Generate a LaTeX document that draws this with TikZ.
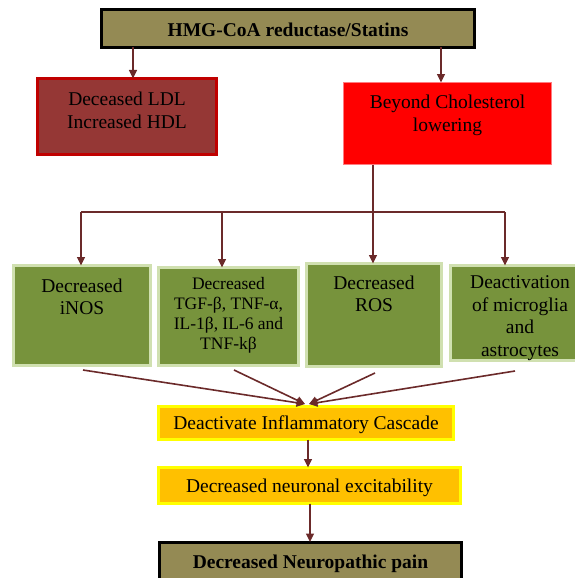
\documentclass[tikz,border=0pt]{standalone}
\usepackage{fontspec}
\setmainfont{Liberation Serif}
\usetikzlibrary{arrows.meta,calc}
\definecolor{olivebox}{HTML}{948A54}
\definecolor{ldlfill}{HTML}{953735}
\definecolor{ldlborder}{HTML}{C00000}
\definecolor{redborder}{HTML}{FF7C80}
\definecolor{greenfill}{HTML}{77933C}
\definecolor{greenborder}{HTML}{D0E0B0}
\definecolor{yellowfill}{HTML}{FFC000}
\definecolor{yellowborder}{HTML}{FFFF00}
\definecolor{arrowc}{HTML}{6B2A2A}
\tikzset{
  box/.style={rectangle, inner sep=0pt, outer sep=0pt},
  olivestyle/.style={box, fill=olivebox, draw=black, line width=3pt},
  ldlstyle/.style={box, fill=ldlfill, draw=ldlborder, line width=3pt},
  redstyle/.style={box, fill=red, draw=redborder, line width=1pt},
  greenstyle/.style={box, fill=greenfill, draw=greenborder, line width=3pt},
  yellowstyle/.style={box, fill=yellowfill, draw=yellowborder, line width=3pt},
  txt/.style={align=center, inner sep=0pt, font=\fontsize{19.5}{22.5}\selectfont},
  smalltxt/.style={align=center, inner sep=0pt, font=\fontsize{17.5}{20}\selectfont},
  boldtxt/.style={align=center, inner sep=0pt, font=\fontsize{19.5}{22.5}\selectfont\bfseries},
  arr/.style={draw=arrowc, line width=1.6pt, -{Triangle[length=8.5pt,width=8pt]}},
  plain/.style={draw=arrowc, line width=1.6pt},
}
\begin{document}
\begin{tikzpicture}[x=1pt,y=-1pt]
\useasboundingbox (0,0) rectangle (574,578);

% top
\node[olivestyle, minimum width=373pt, minimum height=38pt] (top) at (288,28.5) {};
\node[boldtxt] (toptxt) at (288,30) {HMG-CoA reductase/Statins};

% second row
\node[ldlstyle, minimum width=179pt, minimum height=76pt] (ldl) at (127,116.5) {};
\node[txt] (ldltxt) at (127,110.5) {Deceased LDL\\Increased HDL};
\node[redstyle, minimum width=208pt, minimum height=82pt] (red) at (447.5,123.5) {};
\node[txt] (redtxt) at (447.5,115.5) {Beyond Cholesterol\\lowering};

% green row
\node[greenstyle, minimum width=137pt, minimum height=100pt] (g1) at (82,315.5) {};
\node[txt] (g1t) at (82,297) {Decreased\\iNOS};
\node[greenstyle, minimum width=140pt, minimum height=98pt] (g2) at (228.5,316.5) {};
\node[smalltxt] (g2t) at (228.5,315.5) {Decreased\\TGF-β, TNF-α,\\IL-1β, IL-6 and\\TNF-kβ};
\node[greenstyle, minimum width=135pt, minimum height=103pt] (g3) at (374,315) {};
\node[txt] (g3t) at (374,294) {Decreased\\ROS};
\node[greenstyle, minimum width=139pt, minimum height=95pt] (g4) at (520,313) {};
\node[txt] (g4t) at (520,318) {Deactivation\\of microglia\\and\\astrocytes};

% yellow boxes
\node[yellowstyle, minimum width=295pt, minimum height=33pt] (y1) at (306,423) {};
\node[txt] (y1t) at (306,425) {Deactivate Inflammatory Cascade};
\node[yellowstyle, minimum width=302pt, minimum height=36pt] (y2) at (309.5,485.5) {};
\node[txt] (y2t) at (309.5,488) {Decreased neuronal excitability};

% bottom
\node[olivestyle, minimum width=302pt, minimum height=40pt] (bot) at (310.5,562) {};
\node[boldtxt] (bott) at (310.5,563.5) {Decreased Neuropathic pain};

% coordinates
\coordinate (xa) at (133,0);
\coordinate (xb) at (441,0);
\coordinate (xr) at (373,0);
\coordinate (x1) at (81,0);
\coordinate (x2) at (222,0);
\coordinate (x4) at (505,0);
\coordinate (hy) at (0,212);
\coordinate (s1) at (83,370);
\coordinate (s2) at (234,370);
\coordinate (s3) at (375,373);
\coordinate (s4) at (515,371);
\coordinate (t1) at (305,404);
\coordinate (t2) at (309,404);
\coordinate (xc) at (308,0);
\coordinate (xd) at (310,0);

% connectors
\draw[arr] (top.south -| xa) -- (ldl.north -| xa);
\draw[arr] (top.south -| xb) -- (red.north -| xb);
\draw[arr] (red.south -| xr) -- (g3.north -| xr);
\draw[plain] (hy -| x1) -- (hy -| x4);
\draw[arr] (hy -| x1) -- (g1.north -| x1);
\draw[arr] (hy -| x2) -- (g2.north -| x2);
\draw[arr] (hy -| x4) -- (g4.north -| x4);
\draw[arr] (s1) -- (t1);
\draw[arr] (s2) -- (t1);
\draw[arr] (s3) -- (t2);
\draw[arr] (s4) -- (t2);
\draw[arr] (y1.south -| xc) -- (y2.north -| xc);
\draw[arr] (y2.south -| xd) -- (bot.north -| xd);
\end{tikzpicture}
\end{document}
